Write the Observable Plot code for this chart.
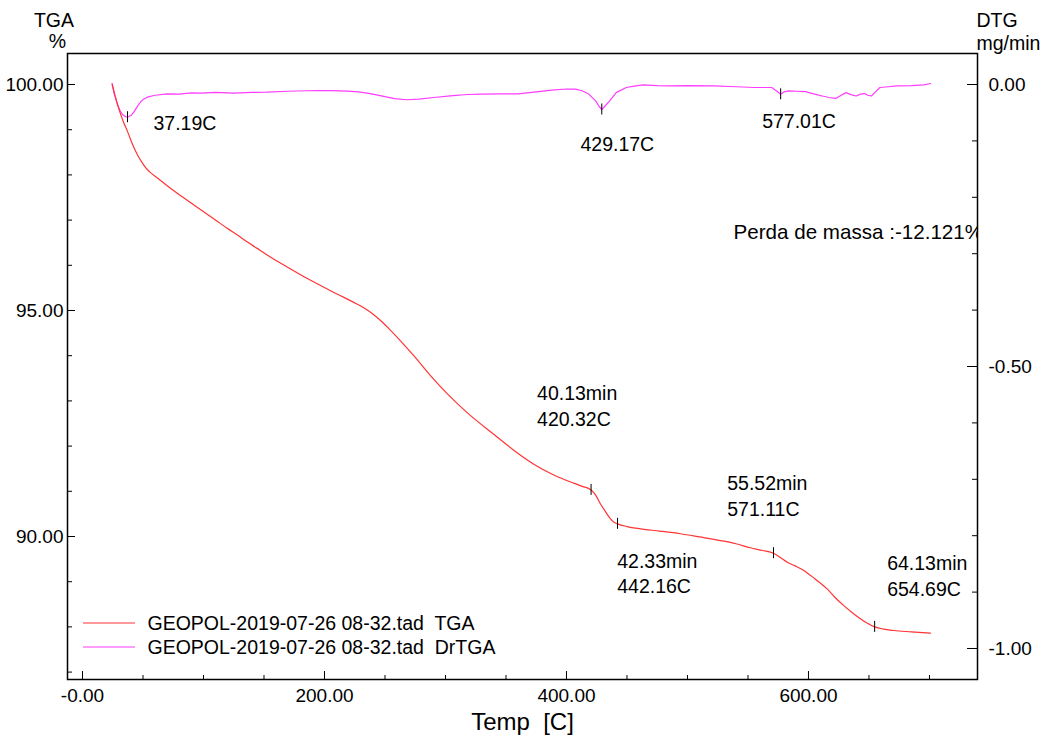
<!DOCTYPE html>
<html>
<head>
<meta charset="utf-8">
<script src="https://cdn.jsdelivr.net/npm/d3@7"></script>
<script src="https://cdn.jsdelivr.net/npm/@observablehq/plot@0.6"></script>
<style>
html, body { margin: 0; padding: 0; background: #fff; }
svg text { white-space: pre; }
</style>
</head>
<body>
<div id="chart"></div>
<script>
// ---------- data ----------
const tgaTemp = [24.5, 26.5, 28.5, 31.4, 34, 36.9, 39.5, 42.4, 45.5, 49.3, 52.5, 56.2, 62, 70, 78, 86.5, 95, 103, 111, 119.6, 128, 136, 144, 152.6, 166, 180.2, 194, 207.7, 216, 224.2, 230, 235.3, 241, 246.3, 253.2, 262.8, 273.8, 287.6, 301.4, 317.9, 339.9, 356.4, 373, 389.5, 406, 413, 420.3, 424, 428.1, 432, 436.4, 439, 442.2, 450, 461.2, 477, 494.2, 510, 527.3, 540, 552, 562, 571.1, 577, 582.4, 589, 596.1, 605, 615.4, 622, 629.2, 636, 642.9, 648, 654.7, 662, 670.5, 685, 700.8];
const tgaMass = [100.0, 99.8, 99.6, 99.35, 99.16, 98.98, 98.8, 98.61, 98.44, 98.27, 98.15, 98.05, 97.93, 97.76, 97.60, 97.44, 97.28, 97.13, 96.98, 96.82, 96.67, 96.52, 96.38, 96.23, 96.01, 95.79, 95.59, 95.40, 95.29, 95.18, 95.10, 95.01, 94.90, 94.78, 94.60, 94.33, 94.0, 93.56, 93.16, 92.74, 92.26, 91.91, 91.60, 91.36, 91.18, 91.11, 91.03, 90.92, 90.72, 90.56, 90.39, 90.32, 90.28, 90.22, 90.17, 90.12, 90.06, 89.99, 89.91, 89.84, 89.75, 89.69, 89.63, 89.53, 89.43, 89.35, 89.25, 89.07, 88.84, 88.65, 88.47, 88.32, 88.18, 88.09, 88.0, 87.95, 87.92, 87.89, 87.86];

const dtgTemp = [24.5, 26, 28.7, 31, 33, 35.5, 37.2, 40, 42.4, 45, 47.9, 50.5, 53.5, 60, 70, 80, 90, 97.5, 110, 125, 140, 152.6, 170, 194, 205, 218.7, 228, 235.3, 242, 249, 258, 268.3, 278, 290.3, 304, 318, 330, 345.5, 360, 373, 388, 400, 407.5, 413, 418.7, 424.3, 427, 429.2, 431.5, 435.5, 441.1, 449.4, 456, 463.4, 475, 485.7, 500, 522, 540, 555.6, 569.6, 574, 577, 580, 583.5, 590, 597.5, 605, 611.5, 617, 622.6, 627, 631, 635, 639.4, 643, 646.4, 649, 652, 655, 659, 666, 673, 685, 695.3, 700.9];
const dtgRate = [0.002, -0.015, -0.034, -0.046, -0.053, -0.057, -0.058, -0.055, -0.049, -0.04, -0.031, -0.026, -0.0225, -0.019, -0.0165, -0.017, -0.015, -0.0154, -0.014, -0.0154, -0.014, -0.0136, -0.012, -0.0106, -0.011, -0.0118, -0.013, -0.0154, -0.018, -0.021, -0.025, -0.027, -0.026, -0.023, -0.02, -0.0177, -0.017, -0.0165, -0.0165, -0.0136, -0.0101, -0.008, -0.0083, -0.011, -0.0174, -0.0294, -0.039, -0.0443, -0.039, -0.0294, -0.0144, -0.0053, -0.003, -0.0005, -0.002, -0.0025, -0.002, -0.0025, -0.004, -0.0053, -0.0053, -0.012, -0.0174, -0.013, -0.0113, -0.012, -0.0126, -0.017, -0.0204, -0.023, -0.0247, -0.019, -0.0144, -0.018, -0.0204, -0.017, -0.0161, -0.019, -0.0204, -0.014, -0.0053, -0.004, -0.0025, -0.002, -0.0005, 0.0018];

// marked points
const tgaMarkTemp = [420.32, 442.16, 571.11, 654.69];
const tgaMarkMass = [91.03, 90.28, 89.63, 88.0];
const tgaMarkMin = [40.13, 42.33, 55.52, 64.13];
const dtgMarkTemp = [37.19, 429.17, 577.01];
const dtgMarkRate = [-0.058, -0.0443, -0.0174];

// axes
const xTicks = [0, 200, 400, 600];
const xTickLabels = ["-0.00", "200.00", "400.00", "600.00"];
const xMinor = [50, 100, 150, 250, 300, 350, 450, 500, 550, 650, 700];
const yTicks = [90, 95, 100];
const yTickLabels = ["90.00", "95.00", "100.00"];
const yMinor = [87, 88, 89, 91, 92, 93, 94, 96, 97, 98, 99];
const dtgTicks = [0, -0.5, -1.0];
const dtgTickLabels = ["0.00", "-0.50", "-1.00"];
const dtgMinor = [-0.1, -0.2, -0.3, -0.4, -0.6, -0.7, -0.8, -0.9];

const legendNames = ["GEOPOL-2019-07-26 08-32.tad  TGA", "GEOPOL-2019-07-26 08-32.tad  DrTGA"];
const massLossText = "Perda de massa :-12.121%";
const xTitle = "Temp  [C]";

// ---------- layout ----------
const W = 1049, H = 742, mL = 67, mR = 72, mT = 53, mB = 63;
const FW = W - mL - mR, FH = H - mT - mB;
const DTG_K = 12.478; // % per mg/min (right axis mapped onto left scale)
const toLeft = r => 100 + r * DTG_K;
const RED = "#ff3434", MAG = "#ff3cff";
const FONT = "'Liberation Sans', Arial, sans-serif";

const tga = tgaTemp.map((t, i) => ({t, v: tgaMass[i]}));
const dtg = dtgTemp.map((t, i) => ({t, v: toLeft(dtgRate[i])}));
const tgaMarks = tgaMarkTemp.map((t, i) => ({t, v: tgaMarkMass[i], min: tgaMarkMin[i]}));
const dtgMarks = dtgMarkTemp.map((t, i) => ({t, v: toLeft(dtgMarkRate[i])}));
const dtgTickPos = dtgTicks.map(toLeft);

const half = 5.5 * 13.85 / FH; // half marker length in % units

function annot(m, lines, dx, dy0, gap = 26) {
  return lines.map((txt, k) => Plot.text([m], {
    x: "t", y: "v", text: () => txt, dx, dy: dy0 + k * gap,
    textAnchor: "start", lineAnchor: "middle", fontSize: 19.5, fill: "#000"
  }));
}

const legendColors = [RED, MAG];
const legendDy = [-56, -32];
const legendLines = (index, scales, values, dims) => {
  const g = d3.create("svg:g");
  legendNames.forEach((n, i) => {
    const y = dims.height - dims.marginBottom + legendDy[i];
    g.append("line")
      .attr("x1", dims.marginLeft + 16).attr("x2", dims.marginLeft + 68)
      .attr("y1", y).attr("y2", y)
      .attr("stroke", legendColors[i]).attr("stroke-width", 1.2);
  });
  return g.node();
};

const chart = Plot.plot({
  width: W, height: H,
  marginLeft: mL, marginRight: mR, marginTop: mT, marginBottom: mB,
  style: {fontFamily: FONT, fontSize: "19px", color: "#000", background: "#fff", overflow: "visible"},
  x: {domain: [-12.4, 739.7], axis: null},
  y: {domain: [86.836, 100.686], axis: null},
  marks: [
    // curves
    Plot.line(dtg, {x: "t", y: "v", stroke: MAG, strokeWidth: 1.2}),
    Plot.line(tga, {x: "t", y: "v", stroke: RED, strokeWidth: 1.2, curve: "monotone-x"}),
    // markers
    Plot.ruleX(tgaMarks, {x: "t", y1: d => d.v + half, y2: d => d.v - half, stroke: "#000", strokeWidth: 1}),
    Plot.ruleX(dtgMarks, {x: "t", y1: d => d.v + half, y2: d => d.v - half, stroke: "#000", strokeWidth: 1}),
    // DTG peak labels
    ...annot(dtgMarks[0], [dtgMarkTemp[0].toFixed(2) + "C"], 26, 6.3),
    ...annot(dtgMarks[1], [dtgMarkTemp[1].toFixed(2) + "C"], -21.3, 35.5),
    ...annot(dtgMarks[2], [dtgMarkTemp[2].toFixed(2) + "C"], -18.5, 27.7),
    // TGA step labels
    ...annot(tgaMarks[0], [tgaMarks[0].min.toFixed(2) + "min", tgaMarkTemp[0].toFixed(2) + "C"], -54, -96),
    ...annot(tgaMarks[1], [tgaMarks[1].min.toFixed(2) + "min", tgaMarkTemp[1].toFixed(2) + "C"], -0.3, 38.1, 25),
    ...annot(tgaMarks[2], [tgaMarks[2].min.toFixed(2) + "min", tgaMarkTemp[2].toFixed(2) + "C"], -46.3, -69.7),
    ...annot(tgaMarks[3], [tgaMarks[3].min.toFixed(2) + "min", tgaMarkTemp[3].toFixed(2) + "C"], 12.5, -62.7, 25.3),
    // mass loss text (clipped by the frame)
    Plot.text([massLossText], {frameAnchor: "top-left", dx: 666, dy: 178.5, textAnchor: "start", lineAnchor: "middle", fontSize: 20.6, fill: "#000", clip: true}),
    // inward ticks
    Plot.ruleX(xMinor, {x: d => d, insetTop: FH - 4, stroke: "#000"}),
    Plot.ruleX(xTicks, {x: d => d, insetTop: FH - 8, stroke: "#000"}),
    Plot.ruleY(yMinor, {y: d => d, insetRight: FW - 5, stroke: "#000"}),
    Plot.ruleY(yTicks, {y: d => d, insetRight: FW - 8, stroke: "#000"}),
    Plot.ruleY(dtgMinor.map(toLeft), {y: d => d, insetLeft: FW - 5, stroke: "#000"}),
    Plot.ruleY(dtgTickPos, {y: d => d, insetLeft: FW - 10, stroke: "#000"}),
    // tick labels
    Plot.axisX(xTicks, {tickSize: 0, tickPadding: 9, tickFormat: d => xTickLabels[xTicks.indexOf(d)], label: null, fontSize: 19}),
    Plot.axisY(yTicks, {anchor: "left", tickSize: 0, tickPadding: 4, tickFormat: d => yTickLabels[yTicks.indexOf(d)], label: null, fontSize: 19}),
    Plot.axisY(dtgTickPos, {anchor: "right", tickSize: 0, tickPadding: 11, tickFormat: d => dtgTickLabels[dtgTickPos.indexOf(d)], label: null, fontSize: 19}),
    // axis titles
    Plot.text(["TGA"], {frameAnchor: "top-left", dx: -13.5, dy: -32.5, textAnchor: "middle", lineAnchor: "middle", fontSize: 19.5}),
    Plot.text(["%"], {frameAnchor: "top-left", dx: -10, dy: -12, textAnchor: "middle", lineAnchor: "middle", fontSize: 19.5}),
    Plot.text(["DTG"], {frameAnchor: "top-right", dx: -1, dy: -33, textAnchor: "start", lineAnchor: "middle", fontSize: 19.5}),
    Plot.text(["mg/min"], {frameAnchor: "top-right", dx: -1, dy: -10, textAnchor: "start", lineAnchor: "middle", fontSize: 19.5}),
    Plot.text([xTitle], {frameAnchor: "bottom", dy: 43, textAnchor: "middle", lineAnchor: "middle", fontSize: 24}),
    // legend
    legendLines,
    Plot.text([legendNames[0]], {frameAnchor: "bottom-left", dx: 80, dy: legendDy[0], textAnchor: "start", lineAnchor: "middle", fontSize: 19.5}),
    Plot.text([legendNames[1]], {frameAnchor: "bottom-left", dx: 80, dy: legendDy[1], textAnchor: "start", lineAnchor: "middle", fontSize: 19.5}),
    Plot.frame({stroke: "#000", strokeWidth: 1.5})
  ]
});
document.getElementById("chart").append(chart);
</script>
</body>
</html>
